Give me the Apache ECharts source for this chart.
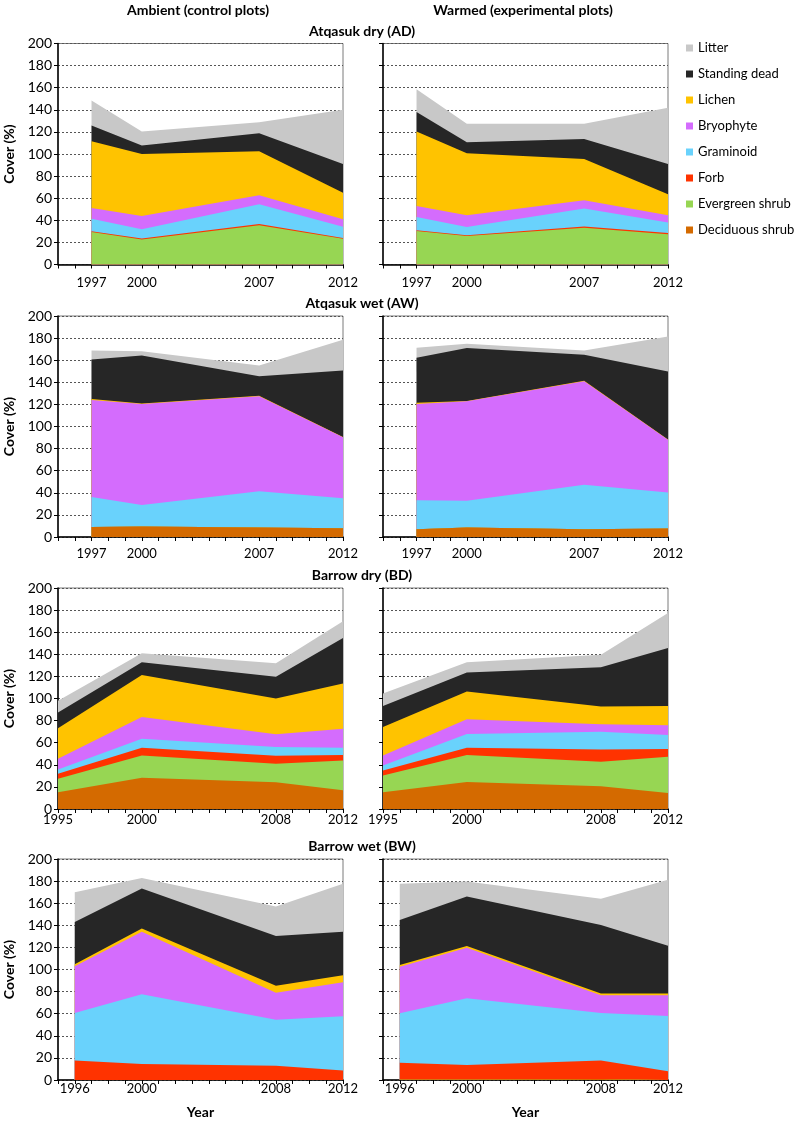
<!DOCTYPE html>
<html>
<head>
<meta charset="utf-8">
<script src="https://cdn.jsdelivr.net/npm/echarts@6/dist/echarts.min.js"></script>
<style>
html,body{margin:0;padding:0;background:#fff;}
#chart{width:798px;height:1121px;}
</style>
</head>
<body>
<div id="chart"></div>
<script>
// Series (bottom to top of the stack)
const seriesNames = ['Deciduous shrub', 'Evergreen shrub', 'Forb', 'Graminoid', 'Bryophyte', 'Lichen', 'Standing dead', 'Litter'];
const seriesColors = ['#d46a00', '#97d653', '#ff3300', '#69d2fc', '#d46cfd', '#ffc300', '#262626', '#c8c8c8'];
const legendOrder = ['Litter', 'Standing dead', 'Lichen', 'Bryophyte', 'Graminoid', 'Forb', 'Evergreen shrub', 'Deciduous shrub'];

// Years per site
const yearsAD = [1997, 2000, 2007, 2012];
const yearsAW = [1997, 2000, 2007, 2012];
const yearsBD = [1995, 2000, 2008, 2012];
const yearsBW = [1996, 2000, 2008, 2012];

// Cover (%) per species, rows in seriesNames order
const AD_ambient = [
  [0.3, 0.3, 0.3, 0.3],
  [29.1, 22.4, 35.2, 23.0],
  [0.8, 0.8, 1.2, 0.7],
  [11.3, 8.3, 17.8, 10.2],
  [9.7, 12.2, 8.2, 6.8],
  [60.3, 56.0, 39.7, 24.0],
  [14.3, 7.6, 16.4, 26.0],
  [22.7, 12.7, 10.0, 49.0]
];
const AD_warmed = [
  [0.3, 0.3, 0.3, 0.3],
  [30.0, 25.5, 33.0, 27.0],
  [0.7, 0.7, 1.2, 1.2],
  [12.0, 7.5, 16.1, 9.4],
  [10.0, 10.5, 7.6, 6.6],
  [67.3, 56.1, 37.3, 19.1],
  [17.6, 10.0, 18.1, 27.4],
  [20.6, 16.7, 13.7, 50.8]
];
const AW_ambient = [
  [9.1, 9.4, 8.5, 7.9],
  [0, 0, 0, 0],
  [0, 0, 0, 0],
  [27.2, 19.6, 33.0, 27.2],
  [87.7, 91.4, 85.9, 55.1],
  [1.0, 0.5, 0.5, 0.3],
  [35.7, 43.4, 17.6, 60.2],
  [8.1, 3.9, 9.7, 27.8]
];
const AW_warmed = [
  [7.0, 8.5, 7.0, 7.6],
  [0, 0, 0, 0],
  [0, 0, 0, 0],
  [26.3, 24.2, 40.2, 32.6],
  [87.1, 90.1, 93.8, 47.8],
  [1.0, 0.3, 0.3, 0.3],
  [40.8, 47.9, 23.7, 61.5],
  [9.1, 3.9, 3.8, 31.7]
];
const BD_ambient = [
  [15.2, 28.2, 24.2, 17.0],
  [12.1, 20.3, 16.7, 26.9],
  [4.5, 7.0, 7.3, 4.9],
  [4.0, 8.1, 7.8, 6.7],
  [9.7, 19.7, 11.6, 17.2],
  [27.5, 37.9, 32.4, 40.9],
  [14.3, 11.5, 19.7, 41.2],
  [10.6, 8.2, 12.1, 15.2]
];
const BD_warmed = [
  [15.2, 24.5, 20.6, 14.5],
  [15.1, 24.3, 22.1, 32.8],
  [4.5, 6.7, 11.2, 6.9],
  [4.6, 12.4, 16.1, 12.8],
  [9.1, 13.3, 6.7, 8.8],
  [25.7, 25.2, 16.0, 17.5],
  [19.1, 17.2, 35.5, 52.5],
  [11.2, 9.1, 11.5, 31.5]
];
const BW_ambient = [
  [0, 0, 0, 0],
  [0, 0, 0, 0],
  [17.6, 14.5, 13.0, 8.5],
  [43.0, 63.1, 41.5, 49.1],
  [42.4, 56.6, 24.5, 30.9],
  [1.8, 2.8, 6.2, 6.3],
  [38.2, 36.3, 45.1, 39.4],
  [27.0, 9.4, 26.7, 43.4]
];
const BW_warmed = [
  [0.5, 0.5, 0.8, 0.5],
  [0, 0, 0, 0],
  [15.0, 13.1, 16.8, 7.4],
  [44.8, 60.3, 43.0, 50.0],
  [42.1, 45.8, 16.1, 18.8],
  [1.6, 1.5, 1.5, 1.5],
  [40.8, 44.8, 62.1, 43.3],
  [32.8, 13.7, 23.7, 59.7]
];

const rowTitles = ['Atqasuk dry (AD)', 'Atqasuk wet (AW)', 'Barrow dry (BD)', 'Barrow wet (BW)'];
const colTitles = ['Ambient (control plots)', 'Warmed (experimental plots)'];

const panels = [
  {years: yearsAD, data: AD_ambient, row: 0, col: 0},
  {years: yearsAD, data: AD_warmed, row: 0, col: 1},
  {years: yearsAW, data: AW_ambient, row: 1, col: 0},
  {years: yearsAW, data: AW_warmed, row: 1, col: 1},
  {years: yearsBD, data: BD_ambient, row: 2, col: 0},
  {years: yearsBD, data: BD_warmed, row: 2, col: 1},
  {years: yearsBW, data: BW_ambient, row: 3, col: 0},
  {years: yearsBW, data: BW_warmed, row: 3, col: 1}
];

const FONT = 'Lato, "Open Sans", sans-serif';
const rowTops = [43.5, 316, 588, 859];
const rowLabelMargin = [12, 10, 4, 2];
const colLefts = [58, 383];
const gridW = 285, gridH = 221;

const grids = [], xAxes = [], yAxes = [], series = [];
panels.forEach((p, i) => {
  grids.push({
    left: colLefts[p.col], top: rowTops[p.row], width: gridW, height: gridH,
    show: true, borderColor: '#7a7a7a', borderWidth: 1, backgroundColor: 'transparent'
  });
  const yrs = p.years;
  xAxes.push({
    gridIndex: i, type: 'value', min: 1995, max: 2012, interval: 1,
    axisLine: {lineStyle: {color: '#000', width: 1.5}},
    axisTick: {show: true, length: 4, lineStyle: {color: '#000', width: 1}},
    splitLine: {show: false},
    axisLabel: {
      color: '#000', fontSize: 13, fontFamily: FONT, margin: rowLabelMargin[p.row],
      formatter: v => (yrs.indexOf(v) >= 0 ? String(v) : ''),
      showMinLabel: true, showMaxLabel: true
    },
    name: p.row === 3 ? 'Year' : '',
    nameLocation: 'middle', nameGap: 25,
    nameTextStyle: {color: '#000', fontSize: 14, fontWeight: 'bold', fontFamily: FONT}
  });
  yAxes.push({
    gridIndex: i, type: 'value', min: 0, max: 200, interval: 20,
    axisLine: {show: true, lineStyle: {color: '#000', width: 1.5}},
    axisTick: {show: true, length: 4, lineStyle: {color: '#000'}},
    splitLine: {show: true, lineStyle: {color: '#555', type: [2, 2], width: 1}},
    axisLabel: {show: p.col === 0, color: '#000', fontSize: 14, fontFamily: FONT, margin: 6},
    name: p.col === 0 ? 'Cover (%)' : '',
    nameLocation: 'middle', nameGap: 42, nameRotate: 90,
    nameTextStyle: {color: '#000', fontSize: 14, fontWeight: 'bold', fontFamily: FONT}
  });
  // cumulative stack tops, drawn top layer first so lower layers paint over
  const cum = [];
  seriesNames.forEach((nm, k) => {
    cum.push(yrs.map((y, j) => (k > 0 ? cum[k - 1][j] : 0) + p.data[k][j]));
  });
  for (let k = seriesNames.length - 1; k >= 0; k--) {
    series.push({
      type: 'line', name: seriesNames[k], xAxisIndex: i, yAxisIndex: i,
      data: yrs.map((y, j) => [y, cum[k][j]]),
      symbol: 'none', showSymbol: false,
      lineStyle: {width: 0},
      areaStyle: {color: seriesColors[k], opacity: 1, origin: 'start'},
      itemStyle: {color: seriesColors[k]},
      emphasis: {disabled: true},
      silent: true, animation: false, z: 2
    });
  }
});

const graphics = [];
const colCenters = [198, 523];
colTitles.forEach((t, c) => graphics.push({
  type: 'text', x: colCenters[c], y: 10,
  style: {text: t, fill: '#000', font: 'bold 14px ' + FONT, textAlign: 'center', textVerticalAlign: 'middle'}
}));
const rowTitleY = [31, 303, 575, 846];
rowTitles.forEach((t, r) => graphics.push({
  type: 'text', x: 362, y: rowTitleY[r],
  style: {text: t, fill: '#000', font: 'bold 14px ' + FONT, textAlign: 'center', textVerticalAlign: 'middle'}
}));

const chart = echarts.init(document.getElementById('chart'), null, {renderer: 'canvas'});
chart.setOption({
  animation: false,
  color: seriesColors,
  grid: grids,
  xAxis: xAxes,
  yAxis: yAxes,
  series: series,
  graphic: graphics,
  legend: {
    data: legendOrder,
    orient: 'vertical', left: 681, top: 36,
    icon: 'rect', itemWidth: 7, itemHeight: 7, itemGap: 12,
    selectedMode: false,
    textStyle: {color: '#000', fontSize: 13, fontFamily: FONT, lineHeight: 14}
  }
});
</script>
</body>
</html>
